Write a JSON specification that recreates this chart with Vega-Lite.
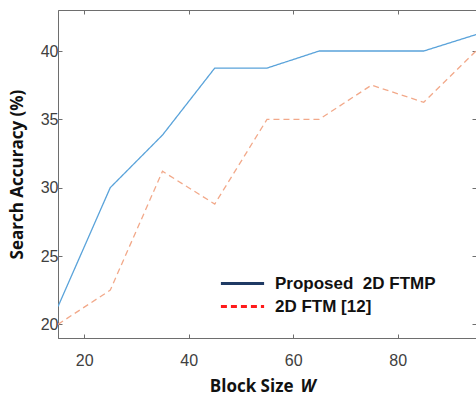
{
  "$schema": "https://vega.github.io/schema/vega-lite/v6.json",
  "width": 418,
  "height": 328,
  "autosize": {"type": "none"},
  "padding": {"left": 58, "top": 10, "right": 0, "bottom": 61},
  "background": "white",
  "config": {
    "view": {"stroke": "#6e6e6e", "strokeWidth": 1},
    "axis": {
      "grid": false,
      "domainColor": "#6e6e6e",
      "tickColor": "#6e6e6e",
      "tickSize": -4,
      "labelFont": "Liberation Sans",
      "labelFontSize": 16,
      "labelColor": "#404040",
      "titleFont": "Open Sans",
      "titleFontWeight": "bold",
      "titleFontSize": 17,
      "titleColor": "#111111"
    }
  },
  "data": {
    "values": [
      {"w": 15, "acc": 21.3, "method": "Proposed\u00a0 2D FTMP"},
      {"w": 25, "acc": 30.0, "method": "Proposed\u00a0 2D FTMP"},
      {"w": 35, "acc": 33.85, "method": "Proposed\u00a0 2D FTMP"},
      {"w": 45, "acc": 38.75, "method": "Proposed\u00a0 2D FTMP"},
      {"w": 55, "acc": 38.75, "method": "Proposed\u00a0 2D FTMP"},
      {"w": 65, "acc": 40.0, "method": "Proposed\u00a0 2D FTMP"},
      {"w": 75, "acc": 40.0, "method": "Proposed\u00a0 2D FTMP"},
      {"w": 85, "acc": 40.0, "method": "Proposed\u00a0 2D FTMP"},
      {"w": 95, "acc": 41.2, "method": "Proposed\u00a0 2D FTMP"},
      {"w": 15, "acc": 20.0, "method": "2D FTM [12]"},
      {"w": 25, "acc": 22.5, "method": "2D FTM [12]"},
      {"w": 35, "acc": 31.2, "method": "2D FTM [12]"},
      {"w": 45, "acc": 28.8, "method": "2D FTM [12]"},
      {"w": 55, "acc": 35.0, "method": "2D FTM [12]"},
      {"w": 65, "acc": 35.0, "method": "2D FTM [12]"},
      {"w": 75, "acc": 37.5, "method": "2D FTM [12]"},
      {"w": 85, "acc": 36.25, "method": "2D FTM [12]"},
      {"w": 95, "acc": 40.0, "method": "2D FTM [12]"}
    ]
  },
  "layer": [
    {
      "mark": {"type": "line", "strokeOpacity": 0, "clip": true},
      "encoding": {
        "x": {"field": "w", "type": "quantitative", "scale": {"domain": [15, 95], "nice": false, "zero": false},
              "axis": {"orient": "top", "values": [20, 40, 60, 80], "labels": false, "title": null, "domain": false}},
        "y": {"field": "acc", "type": "quantitative", "scale": {"domain": [19, 43], "nice": false, "zero": false},
              "axis": {"orient": "right", "values": [20, 25, 30, 35, 40], "labels": false, "title": null, "domain": false}},
        "color": {"field": "method", "type": "nominal",
                  "scale": {"domain": ["Proposed\u00a0 2D FTMP", "2D FTM [12]"], "range": ["#1f3a64", "#ff1a1a"]},
                  "legend": {
                    "orient": "none", "legendX": 171, "legendY": 260, "title": null,
                    "symbolType": "M-1.8,0H1.8", "symbolSize": 576, "symbolStrokeWidth": 3, "symbolOpacity": 1,
                    "labelFont": "Liberation Sans", "labelFontWeight": "bold", "labelFontSize": 17, "labelColor": "#111111",
                    "labelLimit": 400, "rowPadding": 1, "labelOffset": 19,
                    "encode": {"symbols": {"update": {"strokeOpacity": {"value": 1}, "opacity": {"value": 1}}}}
                  }},
        "strokeDash": {"field": "method", "type": "nominal",
                       "scale": {"domain": ["Proposed\u00a0 2D FTMP", "2D FTM [12]"], "range": [[1, 0], [6, 4]]}}
      }
    },
    {
      "mark": {"type": "line", "strokeWidth": 1.3, "clip": true},
      "encoding": {
        "x": {"field": "w", "type": "quantitative",
              "axis": {"orient": "bottom", "values": [20, 40, 60, 80], "title": "Block Size", "labelPadding": 18,
                       "titleAlign": "right", "titleX": 235, "titleY": 48, "titleBaseline": "middle"}},
        "y": {"field": "acc", "type": "quantitative",
              "axis": {"orient": "left", "values": [20, 25, 30, 35, 40], "title": "Search Accuracy (%)", "labelPadding": 4, "titlePadding": 14}},
        "stroke": {"field": "method", "type": "nominal",
                   "scale": {"domain": ["Proposed\u00a0 2D FTMP", "2D FTM [12]"], "range": ["#5aa3da", "#f2a98a"]},
                   "legend": null},
        "strokeDash": {"field": "method", "type": "nominal", "legend": null}
      }
    },
    {
      "mark": {"type": "point", "opacity": 0},
      "encoding": {
        "x": {"field": "w", "type": "quantitative",
              "axis": {"orient": "bottom", "labels": false, "ticks": false, "domain": false, "title": "W",
                       "titleFontStyle": "italic", "titleAlign": "left", "titleX": 242, "titleY": 48, "titleBaseline": "middle"}}
      }
    }
  ],
  "resolve": {"axis": {"x": "independent", "y": "independent"}}
}
